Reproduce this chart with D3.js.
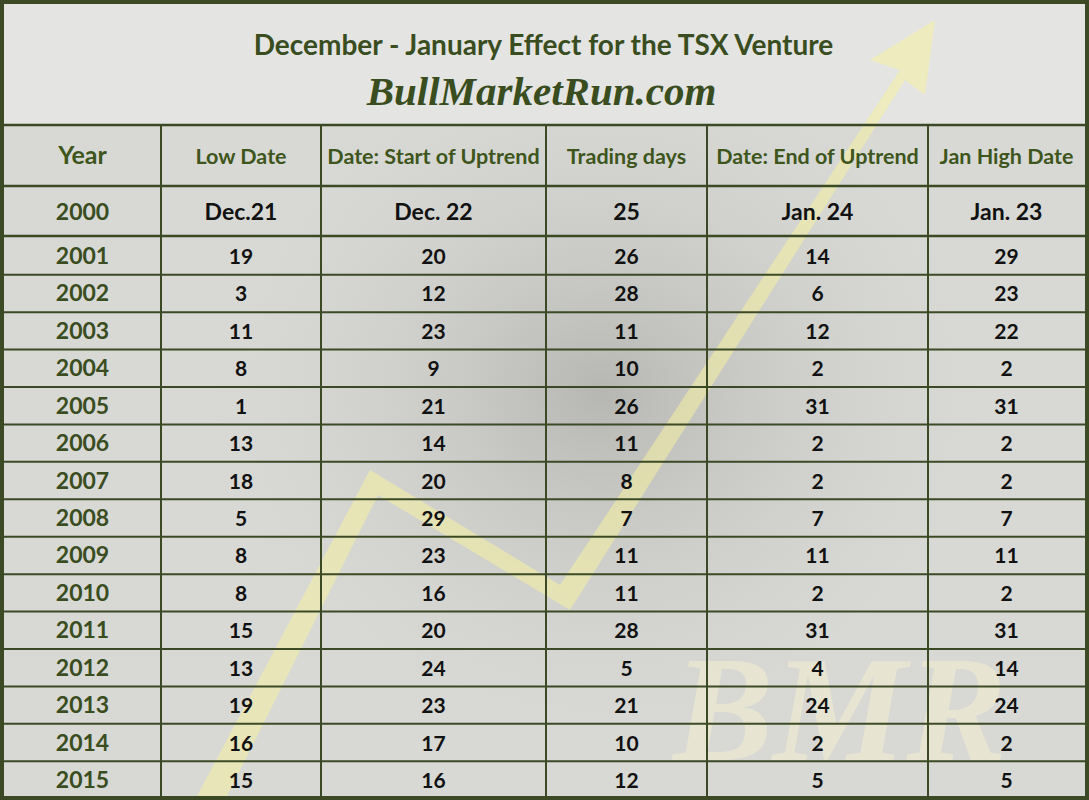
<!DOCTYPE html><html><head><meta charset="utf-8">
<script src="https://cdn.jsdelivr.net/npm/d3@7"></script>
<style>body{margin:0;background:#fff}</style></head><body>
<script>
const title="December - January Effect for the TSX Venture";
const subtitle="BullMarketRun.com";
const headers=["Year","Low Date","Date: Start of Uptrend","Trading days","Date: End of Uptrend","Jan High Date"];
const years=["2000","2001","2002","2003","2004","2005","2006","2007","2008","2009","2010","2011","2012","2013","2014","2015"];
const lowDate=["Dec.21","19","3","11","8","1","13","18","5","8","8","15","13","19","16","15"];
const startUp=["Dec. 22","20","12","23","9","21","14","20","29","23","16","20","24","23","17","16"];
const tradingDays=["25","26","28","11","10","26","11","8","7","11","11","28","5","21","10","12"];
const endUp=["Jan. 24","14","6","12","2","31","2","2","7","11","2","31","4","24","2","5"];
const janHigh=["Jan. 23","29","23","22","2","31","2","2","7","11","2","31","14","24","2","5"];
const colEdges=[4,161,321,546,707,928,1085];

const W=1089,H=800;
const svg=d3.select("body").append("svg").attr("width",W).attr("height",H);
const defs=svg.append("defs");
const rg=defs.append("radialGradient").attr("id","bull").attr("cx","0.55").attr("cy","0.45").attr("r","0.5");
rg.append("stop").attr("offset","0").attr("stop-color","#9a9b97").attr("stop-opacity",0.55);
rg.append("stop").attr("offset","1").attr("stop-color","#d8d9d5").attr("stop-opacity",0);
svg.append("rect").attr("width",W).attr("height",H).attr("fill","#d8d9d5");
svg.append("ellipse").attr("cx",560).attr("cy",430).attr("rx",420).attr("ry",380).attr("fill","url(#bull)");
svg.append("rect").attr("x",4).attr("y",4).attr("width",W-8).attr("height",121).attr("fill","#e4e5e3");
svg.append("path").attr("d","M195,800 L370,470 L560,585 L900,70 L870,60 L935,20 L925,95 L905,80 L570,610 L378,495 L225,800 Z")
 .attr("fill","#f5f0a0").attr("opacity",0.55);
svg.append("text").attr("x",840).attr("y",760).attr("text-anchor","middle").attr("font-family","Liberation Serif").attr("font-weight","bold").attr("font-style","italic")
 .attr("font-size",150).attr("fill","#f2eed0").attr("opacity",0.6).text("BMR");

const rowY=d3.scaleLinear().domain([1,15]).range([256,780]);
const green="#3a4d1f", hgreen="#3e561c";
svg.append("text").attr("x",W/2-1).attr("y",55).attr("text-anchor","middle").attr("font-family","Lato").attr("font-weight","bold").attr("font-size",28).attr("fill",green).text(title);
svg.append("text").attr("x",W/2-3).attr("y",105).attr("text-anchor","middle").attr("font-family","Liberation Serif").attr("font-weight","bold").attr("font-style","italic").attr("font-size",41).attr("fill",green).text(subtitle);

const cx=i=>(colEdges[i]+colEdges[i+1])/2;
headers.forEach((h,i)=>svg.append("text").attr("x",cx(i)).attr("y",164).attr("text-anchor","middle").attr("font-family","Lato").attr("font-weight","bold")
 .attr("font-size",i==0?25:21.5).attr("fill",hgreen).text(h));
const cols=[years,lowDate,startUp,tradingDays,endUp,janHigh];
years.forEach((y,r)=>{
  const yy=r==0?220:rowY(r)+8;
  cols.forEach((c,i)=>svg.append("text").attr("x",cx(i)).attr("y",yy).attr("text-anchor","middle").attr("font-family","Lato").attr("font-weight","bold")
   .attr("font-size",r==0?23:(i==0?23:21)).attr("fill",i==0?green:"#111").text(c[r]));
});
const lineC="#3b4a24";
const hLines=[125,186,236].concat(d3.range(1,15).map(r=>(rowY(r)+rowY(r+1))/2));
hLines.forEach(y=>svg.append("line").attr("x1",0).attr("x2",W).attr("y1",y).attr("y2",y).attr("stroke",lineC).attr("stroke-width",y<240?2.5:2));
colEdges.slice(1,6).forEach(xx=>svg.append("line").attr("x1",xx).attr("x2",xx).attr("y1",125).attr("y2",H).attr("stroke",lineC).attr("stroke-width",2));
svg.append("rect").attr("x",2).attr("y",2).attr("width",W-4).attr("height",H-4).attr("fill","none").attr("stroke",lineC).attr("stroke-width",4);
</script></body></html>
